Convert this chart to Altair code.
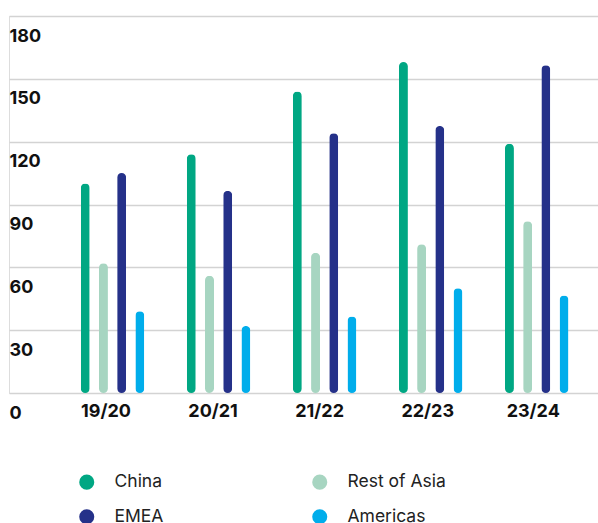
import altair as alt
import pandas as pd

years = ["19/20", "20/21", "21/22", "22/23", "23/24"]
regions = ["China", "Rest of Asia", "EMEA", "Americas"]
legend_order = ["China", "EMEA", "Rest of Asia", "Americas"]
china = [100, 114, 144, 158, 119]
rest_of_asia = [62, 56, 67, 71, 82]
emea = [105, 96.5, 124, 127.5, 156.5]
americas = [39, 32, 36.5, 50, 46.5]
region_colors = {"China": "#00A783", "Rest of Asia": "#A7D5C1",
                 "EMEA": "#253189", "Americas": "#00ADEB"}
y_ticks = [0, 30, 60, 90, 120, 150, 180]
label_shift = [-6.5, -5.5, -5, -3, -3.5]

series = {"China": china, "Rest of Asia": rest_of_asia, "EMEA": emea, "Americas": americas}
rows = []
for r in regions:
    for yr, v in zip(years, series[r]):
        rows.append({"year": yr, "region": r, "value": v})
df = pd.DataFrame(rows)

FONT = "Inter"

offset_cond = {
    "condition": [{"test": f"datum.value === '{yr}'", "value": s}
                  for yr, s in zip(years[:-1], label_shift[:-1])],
    "value": label_shift[-1],
}

chart = alt.Chart(df).mark_bar(width=9, cornerRadius=4.5).encode(
    x=alt.X("year:N", sort=years,
            scale=alt.Scale(paddingInner=0, paddingOuter=0.277, align=0.86),
            axis=alt.Axis(title=None, domain=False, ticks=False, grid=False, labelAngle=0,
                          labelFont=FONT, labelFontSize=18, labelFontWeight="bold",
                          labelColor="#111111", labelPadding=9, labelOffset=offset_cond)),
    xOffset=alt.XOffset("region:N", sort=regions,
                        scale=alt.Scale(paddingInner=0, paddingOuter=0.9135)),
    y=alt.Y("value:Q", scale=alt.Scale(domain=[0, 180], nice=False),
            axis=alt.Axis(title=None, values=y_ticks, domain=False, ticks=False,
                          grid=True, gridColor="#D3D3D3", gridWidth=1.5,
                          labelAlign="left", labelPadding=0, labelBaseline="top",
                          labelOffset=11, labelFont=FONT, labelFontSize=18,
                          labelFontWeight="bold", labelColor="#111111")),
    color=alt.Color("region:N",
                    scale=alt.Scale(domain=legend_order,
                                    range=[region_colors[r] for r in legend_order]),
                    legend=alt.Legend(title=None, orient="none", legendX=69, legendY=457,
                                      columns=2, symbolType="circle", symbolSize=227,
                                      symbolStrokeWidth=0, labelOffset=19,
                                      labelFont=FONT, labelFontSize=17.5, labelColor="#222222",
                                      columnPadding=147, rowPadding=16, padding=0,
                                      labelLimit=300)),
).properties(
    width=589, height=377,
    autosize=alt.AutoSizeParams(type="none"),
    padding={"left": 9, "top": 16, "right": 0, "bottom": 130},
).configure_view(stroke=None).configure(background="white")

chart.save("out.html", embed_options={"renderer": "svg", "actions": False})
